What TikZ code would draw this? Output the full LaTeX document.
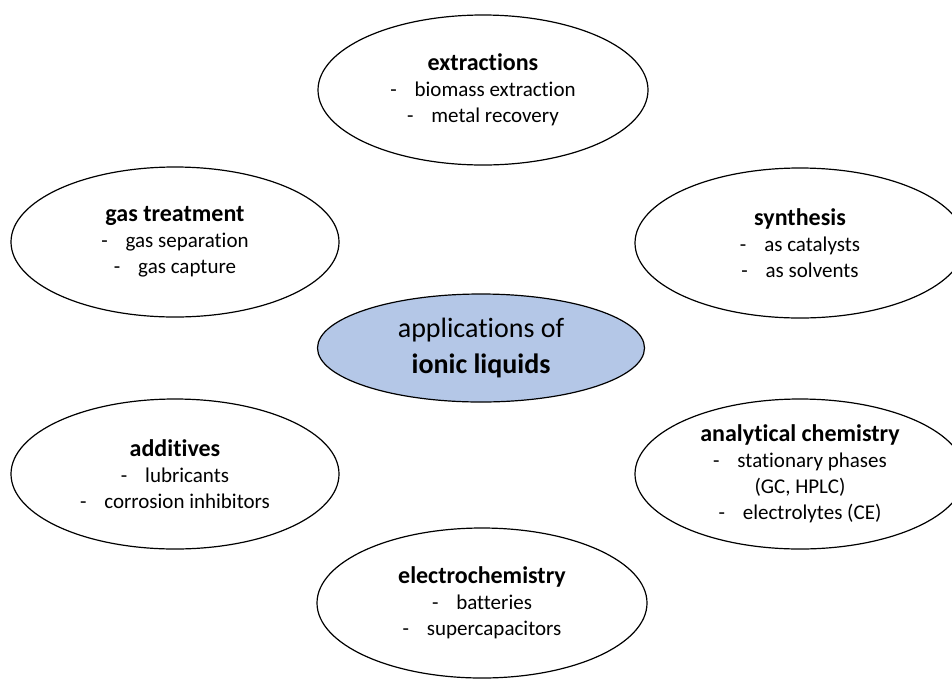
\documentclass[tikz,border=0pt]{standalone}
\usepackage{fontspec}
\setmainfont{Carlito}[Ligatures=NoCommon]
\usepackage{xcolor}
\usetikzlibrary{shapes.geometric}
\definecolor{hubblue}{RGB}{180,199,231}
\newcommand{\hd}[1]{{\fontsize{24}{27}\selectfont\bfseries #1}}
\newcommand{\itm}[1]{-\hspace{0.85em}#1}

\begin{document}
\begin{tikzpicture}[x=1pt,y=-1pt,
    field/.style={ellipse,draw,line width=1.2pt,minimum width=330pt,minimum height=150pt,inner sep=0pt,align=center,font=\fontsize{21}{26}\selectfont},
    hub/.style={field,fill=hubblue,minimum width=327pt,minimum height=108pt,font=\fontsize{28}{36}\selectfont}]
    \clip (0,0) rectangle (952,678);
    % centre
    \node[hub] (il) at (481,348) {applications of\\ \textbf{ionic liquids}};
    % fields of use
    \node[field] (extr) at (483,90) {\hd{extractions}\\ \itm{biomass extraction}\\ \itm{metal recovery}};
    \node[field,minimum width=328pt] (gas) at (175,242) {\hd{gas treatment}\\ \itm{gas separation}\\ \itm{gas capture}};
    \node[field] (syn) at (800,243) {\hd{synthesis}\\ \itm{as catalysts}\\ \itm{as solvents}};
    \node[field,minimum width=328pt] (add) at (175,474) {\hd{additives}\\ \itm{lubricants}\\ \itm{corrosion inhibitors}};
    \node[field] (anal) at (800,474) {\hd{analytical chemistry}\\ \itm{stationary phases}\\ (GC, HPLC)\\ \itm{electrolytes (CE)}};
    \node[field] (echem) at (482,603) {\hd{electrochemistry}\\ \itm{batteries}\\ \itm{supercapacitors}};
\end{tikzpicture}
\end{document}
